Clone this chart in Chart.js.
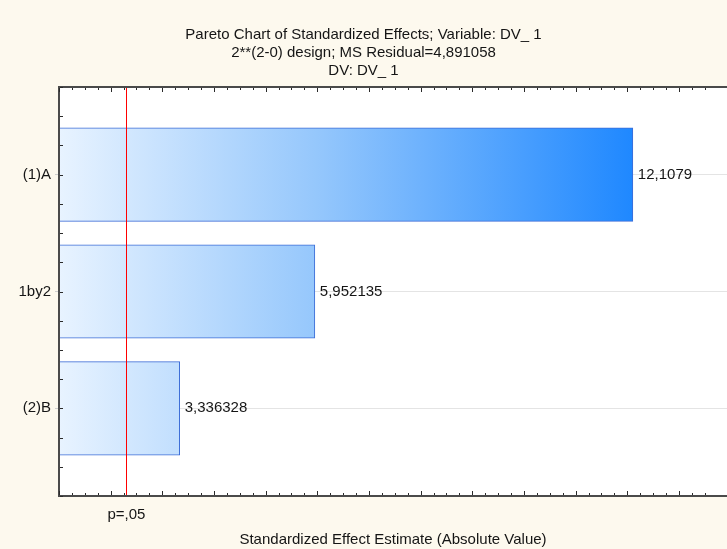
<!DOCTYPE html>
<html>
<head>
<meta charset="utf-8">
<script src="https://cdn.jsdelivr.net/npm/chart.js@4.4.1/dist/chart.umd.min.js"></script>
<style>
  html, body { margin: 0; padding: 0; background: #fdf9ee; overflow: hidden; }
  #wrap { width: 727px; height: 549px; position: relative; }
</style>
</head>
<body>
<div id="wrap"><canvas id="pareto"></canvas></div>
<script>
// Effects, sorted by absolute standardized estimate
const effects = ['(1)A', '1by2', '(2)B'];
const effectValues = [12.1079, 5.952135, 3.336328];

// Two-sided t critical value for p = .05
const criticalT = 2.306;
const criticalLabel = 'p=,05';

const titleLines = [
  'Pareto Chart of Standardized Effects; Variable: DV_ 1',
  '2**(2-0) design; MS Residual=4,891058',
  'DV: DV_ 1'
];
const xTitle = 'Standardized Effect Estimate (Absolute Value)';
const xRange = [1, 13.93];
const yRange = [-0.75, 2.75];

const FONT = "'Liberation Sans', Arial, Helvetica, sans-serif";
const FONT_SIZE = 15;
Chart.defaults.font.family = FONT;
Chart.defaults.font.size = FONT_SIZE;
Chart.defaults.color = '#151515';

const isWhole = v => Math.abs(v - Math.round(v)) < 1e-6;
const isQuarter = v => Math.abs(v * 4 - Math.round(v * 4)) < 1e-6;
const decimalComma = v => String(v).replace('.', ',');

// Horizontal fade from pale blue to saturated blue across the value axis
function barFill(context) {
  const chart = context.chart;
  const area = chart.chartArea;
  const xs = chart.scales.x;
  if (!area || !xs) return '#9cc9fb';
  const end = xs.getPixelForValue(Math.max(...effectValues));
  const g = chart.ctx.createLinearGradient(area.left, 0, end, 0);
  g.addColorStop(0, '#e8f3ff');
  g.addColorStop(0.45, '#95c7fc');
  g.addColorStop(1, '#1f88ff');
  return g;
}

const panelBackground = {
  id: 'panelBackground',
  beforeDraw(chart) {
    const { ctx, chartArea: a } = chart;
    ctx.save();
    ctx.fillStyle = '#fdf9ee';
    ctx.fillRect(0, 0, chart.width, chart.height);
    ctx.fillStyle = '#ffffff';
    ctx.fillRect(a.left, a.top, a.right - a.left, a.bottom - a.top);
    ctx.restore();
  }
};

const frameAndMarks = {
  id: 'frameAndMarks',
  afterDatasetsDraw(chart) {
    const { ctx, chartArea: a, scales: { x, y } } = chart;
    ctx.save();

    // significance threshold
    const cx = Math.round(x.getPixelForValue(criticalT)) + 0.5;
    ctx.strokeStyle = '#ff0000';
    ctx.lineWidth = 1;
    ctx.beginPath();
    ctx.moveTo(cx, a.top);
    ctx.lineTo(cx, a.bottom);
    ctx.stroke();

    // frame: top, left, bottom
    ctx.strokeStyle = '#4a4a4a';
    ctx.lineWidth = 2;
    ctx.beginPath();
    ctx.moveTo(a.right, a.top);
    ctx.lineTo(a.left, a.top);
    ctx.lineTo(a.left, a.bottom);
    ctx.lineTo(a.right, a.bottom);
    ctx.stroke();

    // inward tick marks
    ctx.lineWidth = 1;
    ctx.strokeStyle = '#2a2a2a';
    ctx.beginPath();
    x.ticks.forEach(t => {
      if (!isQuarter(t.value)) return;
      const px = Math.round(x.getPixelForValue(t.value)) + 0.5;
      const len = isWhole(t.value) ? 4 : 2;
      ctx.moveTo(px, a.bottom - 1);
      ctx.lineTo(px, a.bottom - 1 - len);
      ctx.moveTo(px, a.top + 1);
      ctx.lineTo(px, a.top + 1 + len);
    });
    y.ticks.forEach(t => {
      const py = Math.round(y.getPixelForValue(t.value)) + 0.5;
      ctx.moveTo(a.left + 1, py);
      ctx.lineTo(a.left + 4, py);
    });
    ctx.stroke();

    // value labels at bar ends
    ctx.fillStyle = '#151515';
    ctx.font = FONT_SIZE + 'px ' + FONT;
    ctx.textAlign = 'left';
    ctx.textBaseline = 'middle';
    chart.getDatasetMeta(0).data.forEach((bar, i) => {
      ctx.fillText(decimalComma(effectValues[i]), bar.x + 5, bar.y);
    });
    ctx.restore();
  }
};

new Chart(document.getElementById('pareto'), {
  type: 'bar',
  data: {
    datasets: [{
      data: effects.map((e, i) => ({ x: effectValues[i], y: i })),
      backgroundColor: barFill,
      borderColor: '#3b6bd6',
      borderWidth: 1,
      barThickness: 'flex',
      barPercentage: 0.8,
      categoryPercentage: 1
    }]
  },
  options: {
    indexAxis: 'y',
    responsive: true,
    maintainAspectRatio: false,
    animation: false,
    layout: { padding: 0 },
    plugins: {
      legend: { display: false },
      tooltip: { enabled: false },
      title: {
        display: true,
        text: titleLines,
        color: '#151515',
        font: { size: FONT_SIZE, weight: 'normal', lineHeight: 1.2 },
        padding: { top: 26, bottom: 7 }
      }
    },
    scales: {
      x: {
        type: 'linear',
        position: 'bottom',
        min: xRange[0],
        max: xRange[1],
        grid: { display: false, drawTicks: false },
        border: { display: false },
        ticks: {
          stepSize: 0.25,
          autoSkip: false,
          maxRotation: 0,
          padding: 10,
          color: '#151515',
          callback: v => (Math.abs(v - criticalT) < 1e-9 ? criticalLabel : '')
        },
        afterBuildTicks(scale) {
          scale.ticks.push({ value: criticalT });
        },
        title: {
          display: true,
          text: xTitle,
          color: '#151515',
          font: { size: FONT_SIZE, lineHeight: 1.2 },
          padding: { top: 0, bottom: 0 }
        },
        afterFit(scale) { scale.height = 53; }
      },
      y: {
        type: 'linear',
        reverse: true,
        offset: false,
        min: yRange[0],
        max: yRange[1],
        border: { display: false },
        grid: {
          offset: false,
          drawTicks: true,
          tickLength: 4,
          lineWidth: 1,
          color: c => (c.tick && isWhole(c.tick.value) ? '#e4e4e4' : 'rgba(0,0,0,0)'),
          tickColor: c => (c.tick && isWhole(c.tick.value) ? '#cfcfcf' : 'rgba(0,0,0,0)')
        },
        ticks: {
          stepSize: 0.25,
          autoSkip: false,
          padding: 4,
          color: '#151515',
          callback: v => (isWhole(v) && effects[Math.round(v)] !== undefined ? effects[Math.round(v)] : '')
        },
        afterFit(scale) { scale.width = 59; }
      }
    }
  },
  plugins: [panelBackground, frameAndMarks]
});
</script>
</body>
</html>
